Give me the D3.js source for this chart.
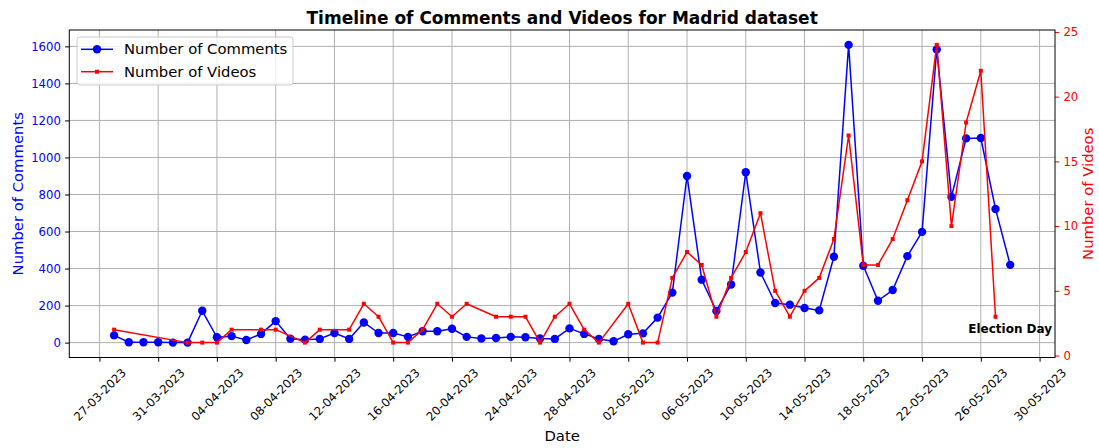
<!DOCTYPE html>
<html>
<head>
<meta charset="utf-8">
<script src="https://cdn.jsdelivr.net/npm/d3@7"></script>
<style>
  body { margin: 0; background: #fff; }
  svg { display: block; font-family: 'DejaVu Sans', sans-serif; }
</style>
</head>
<body>
<div id="chart"></div>
<script>
// comments per day
const commentDates = [
  '28-03-2023', '29-03-2023', '30-03-2023', '31-03-2023', '01-04-2023', '02-04-2023', '03-04-2023',
  '04-04-2023', '05-04-2023', '06-04-2023', '07-04-2023', '08-04-2023', '09-04-2023', '10-04-2023',
  '11-04-2023', '12-04-2023', '13-04-2023', '14-04-2023', '15-04-2023', '16-04-2023', '17-04-2023',
  '18-04-2023', '19-04-2023', '20-04-2023', '21-04-2023', '22-04-2023', '23-04-2023', '24-04-2023',
  '25-04-2023', '26-04-2023', '27-04-2023', '28-04-2023', '29-04-2023', '30-04-2023', '01-05-2023',
  '02-05-2023', '03-05-2023', '04-05-2023', '05-05-2023', '06-05-2023', '07-05-2023', '08-05-2023',
  '09-05-2023', '10-05-2023', '11-05-2023', '12-05-2023', '13-05-2023', '14-05-2023', '15-05-2023',
  '16-05-2023', '17-05-2023', '18-05-2023', '19-05-2023', '20-05-2023', '21-05-2023', '22-05-2023',
  '23-05-2023', '24-05-2023', '25-05-2023', '26-05-2023', '27-05-2023', '28-05-2023'
];
const commentCounts = [
  39, 2, 2, 2, 0, 0, 172,
  29, 35, 14, 47, 116, 21, 16,
  20, 52, 20, 109, 52, 52, 31,
  61, 61, 75, 31, 22, 25, 31,
  29, 22, 20, 77, 47, 20, 7,
  45, 50, 135, 270, 900, 340, 171,
  314, 920, 379, 214, 205, 187, 174,
  464, 1608, 415, 226, 284, 467, 598,
  1583, 787, 1103, 1105, 722, 420
];

// videos per day (days without videos are absent)
const videoDates = [
  '28-03-2023', '02-04-2023', '03-04-2023', '04-04-2023', '05-04-2023', '07-04-2023', '08-04-2023',
  '10-04-2023', '11-04-2023', '13-04-2023', '14-04-2023', '15-04-2023', '16-04-2023', '17-04-2023',
  '18-04-2023', '19-04-2023', '20-04-2023', '21-04-2023', '23-04-2023', '24-04-2023', '25-04-2023',
  '26-04-2023', '27-04-2023', '28-04-2023', '29-04-2023', '30-04-2023', '02-05-2023', '03-05-2023',
  '04-05-2023', '05-05-2023', '06-05-2023', '07-05-2023', '08-05-2023', '09-05-2023', '10-05-2023',
  '11-05-2023', '12-05-2023', '13-05-2023', '14-05-2023', '15-05-2023', '16-05-2023', '17-05-2023',
  '18-05-2023', '19-05-2023', '20-05-2023', '21-05-2023', '22-05-2023', '23-05-2023', '24-05-2023',
  '25-05-2023', '26-05-2023', '27-05-2023'
];
const videoCounts = [
  2, 1, 1, 1, 2, 2, 2,
  1, 2, 2, 4, 3, 1, 1,
  2, 4, 3, 4, 3, 3, 3,
  1, 3, 4, 2, 1, 4, 1,
  1, 6, 8, 7, 3, 6, 8,
  11, 5, 3, 5, 6, 9, 17,
  7, 7, 9, 12, 15, 24, 10,
  18, 22, 3
];

const dateTicks = [
  '27-03-2023', '31-03-2023', '04-04-2023', '08-04-2023', '12-04-2023', '16-04-2023',
  '20-04-2023', '24-04-2023', '28-04-2023', '02-05-2023', '06-05-2023', '10-05-2023',
  '14-05-2023', '18-05-2023', '22-05-2023', '26-05-2023', '30-05-2023'
];
const commentTicks = [0, 200, 400, 600, 800, 1000, 1200, 1400, 1600];
const videoTicks = [0, 5, 10, 15, 20, 25];

const electionDay = '28-05-2023';
const electionLabelAt = 50;

const parse = d3.utcParse('%d-%m-%Y');
const fmt = d3.utcFormat('%d-%m-%Y');

const comments = commentDates.map((d, i) => ({date: parse(d), val: commentCounts[i]}));
const videos = videoDates.map((d, i) => ({date: parse(d), val: videoCounts[i]}));

function padded(ext) {
  const pad = (ext[1] - ext[0]) * 0.05;
  return [+ext[0] - pad, +ext[1] + pad];
}

const width = 1099;
const height = 448;
const margin = {top: 30, right: 44, bottom: 90.5, left: 69.3};
const w = width - margin.left - margin.right;
const h = height - margin.top - margin.bottom;
const fontFamily = "'DejaVu Sans', sans-serif";

const svg = d3.select('#chart')
  .append('svg')
  .attr('width', width)
  .attr('height', height);

const chart = svg.append('g')
  .attr('transform', `translate(${margin.left},${margin.top})`);

const allDates = comments.map(d => d.date).concat(videos.map(d => d.date));
const xScale = d3.scaleUtc()
  .domain(padded(d3.extent(allDates)).map(t => new Date(t)))
  .range([0, w]);
const yLeft = d3.scaleLinear()
  .domain(padded(d3.extent(commentCounts)))
  .range([h, 0]);
const yRight = d3.scaleLinear()
  .domain(padded(d3.extent(videoCounts)))
  .range([h, 0]);

const tickDates = dateTicks.map(parse);
const gridColor = '#b0b0b0';
const tickFont = 11.7;

// gridlines
chart.append('g')
  .selectAll('line')
  .data(tickDates)
  .enter()
  .append('line')
  .attr('x1', d => xScale(d)).attr('x2', d => xScale(d))
  .attr('y1', 0).attr('y2', h)
  .attr('stroke', gridColor)
  .attr('stroke-width', 1);

chart.append('g')
  .selectAll('line')
  .data(commentTicks)
  .enter()
  .append('line')
  .attr('x1', 0).attr('x2', w)
  .attr('y1', d => yLeft(d)).attr('y2', d => yLeft(d))
  .attr('stroke', gridColor)
  .attr('stroke-width', 1);

// comments series
chart.append('path')
  .datum(comments)
  .attr('fill', 'none')
  .attr('stroke', '#0000ff')
  .attr('stroke-width', 1.5)
  .attr('stroke-linejoin', 'round')
  .attr('d', d3.line().x(d => xScale(d.date)).y(d => yLeft(d.val)));

chart.selectAll('.cmt')
  .data(comments)
  .enter()
  .append('circle')
  .classed('cmt', true)
  .attr('cx', d => xScale(d.date))
  .attr('cy', d => yLeft(d.val))
  .attr('r', 4.2)
  .attr('fill', '#0000ff');

chart.append('text')
  .attr('x', xScale(parse(electionDay)))
  .attr('y', yLeft(electionLabelAt))
  .attr('text-anchor', 'middle')
  .style('font-size', '12px')
  .style('font-weight', 'bold')
  .attr('fill', '#000')
  .text('Election Day');

// videos series (twin axis, drawn on top)
chart.append('path')
  .datum(videos)
  .attr('fill', 'none')
  .attr('stroke', '#ff0000')
  .attr('stroke-width', 1.5)
  .attr('stroke-linejoin', 'round')
  .attr('d', d3.line().x(d => xScale(d.date)).y(d => yRight(d.val)));

chart.selectAll('.vid')
  .data(videos)
  .enter()
  .append('rect')
  .classed('vid', true)
  .attr('x', d => xScale(d.date) - 2)
  .attr('y', d => yRight(d.val) - 2)
  .attr('width', 4)
  .attr('height', 4)
  .attr('fill', '#ff0000');

// axes
const xAxis = chart.append('g')
  .attr('transform', `translate(0,${h})`)
  .call(d3.axisBottom(xScale).tickValues(tickDates).tickSize(4.2).tickFormat(''))
  .attr('font-family', fontFamily);
xAxis.select('.domain').remove();
xAxis.selectAll('.tick line').attr('stroke', '#000').attr('stroke-width', 1);
xAxis.selectAll('.tick')
  .append('text')
  .text(d => fmt(d))
  .attr('fill', '#000')
  .attr('text-anchor', 'middle')
  .attr('dominant-baseline', 'central')
  .style('font-size', tickFont + 'px')
  .each(function() {
    const len = this.getComputedTextLength();
    const box = (len + tickFont * 1.164) / Math.SQRT2;
    d3.select(this).attr('transform', `translate(0,${8.4 + box / 2}) rotate(-45)`);
  });

const leftAxis = chart.append('g')
  .call(d3.axisLeft(yLeft).tickValues(commentTicks).tickSize(4.2).tickPadding(4.2).tickFormat(d3.format('d')))
  .attr('font-family', fontFamily);
leftAxis.select('.domain').remove();
leftAxis.selectAll('.tick line').attr('stroke', '#000').attr('stroke-width', 1);
leftAxis.selectAll('.tick text')
  .attr('fill', '#0000ff')
  .style('font-size', tickFont + 'px');

const rightAxis = chart.append('g')
  .attr('transform', `translate(${w},0)`)
  .call(d3.axisRight(yRight).tickValues(videoTicks).tickSize(4.2).tickPadding(4.2).tickFormat(d3.format('d')))
  .attr('font-family', fontFamily);
rightAxis.select('.domain').remove();
rightAxis.selectAll('.tick line').attr('stroke', '#ff0000').attr('stroke-width', 1);
rightAxis.selectAll('.tick text')
  .attr('fill', '#ff0000')
  .style('font-size', tickFont + 'px');

// spines
chart.append('rect')
  .attr('width', w)
  .attr('height', h)
  .attr('fill', 'none')
  .attr('stroke', '#000')
  .attr('stroke-width', 1);

// labels
const labelFont = '14.8px';
svg.append('text')
  .attr('x', margin.left + w / 2)
  .attr('y', 23.5)
  .attr('text-anchor', 'middle')
  .style('font-size', '17px')
  .style('font-weight', 'bold')
  .text('Timeline of Comments and Videos for Madrid dataset');

svg.append('text')
  .attr('x', margin.left + w / 2)
  .attr('y', 441)
  .attr('text-anchor', 'middle')
  .style('font-size', labelFont)
  .text('Date');

svg.append('text')
  .attr('transform', `translate(22.5,${margin.top + h / 2}) rotate(-90)`)
  .attr('text-anchor', 'middle')
  .attr('fill', '#0000ff')
  .style('font-size', labelFont)
  .text('Number of Comments');

svg.append('text')
  .attr('transform', `translate(1093,${margin.top + h / 2}) rotate(-90)`)
  .attr('text-anchor', 'middle')
  .attr('fill', '#ff0000')
  .style('font-size', labelFont)
  .text('Number of Videos');

// legend
const legend = chart.append('g')
  .attr('transform', 'translate(7.7,7)');
legend.append('rect')
  .attr('width', 216)
  .attr('height', 48)
  .attr('rx', 3)
  .attr('fill', '#fff')
  .attr('fill-opacity', 0.8)
  .attr('stroke', '#cccccc')
  .attr('stroke-width', 1);

const entries = [
  {label: 'Number of Comments', color: '#0000ff', marker: 'circle'},
  {label: 'Number of Videos', color: '#ff0000', marker: 'square'}
];
const rows = legend.selectAll('.entry')
  .data(entries)
  .enter()
  .append('g')
  .classed('entry', true)
  .attr('transform', (d, i) => `translate(0,${12.3 + i * 22.4})`);
rows.append('line')
  .attr('x1', 4).attr('x2', 36)
  .attr('stroke', d => d.color)
  .attr('stroke-width', 1.5);
rows.filter(d => d.marker === 'circle')
  .append('circle')
  .attr('cx', 20).attr('r', 4.2)
  .attr('fill', d => d.color);
rows.filter(d => d.marker === 'square')
  .append('rect')
  .attr('x', 18).attr('y', -2)
  .attr('width', 4).attr('height', 4)
  .attr('fill', d => d.color);
rows.append('text')
  .attr('x', 47)
  .attr('dy', '0.35em')
  .style('font-size', labelFont)
  .attr('fill', '#000')
  .text(d => d.label);
</script>
</body>
</html>
